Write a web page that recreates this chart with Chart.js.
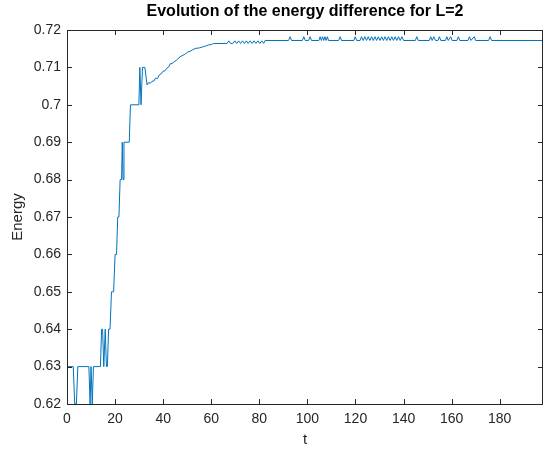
<!DOCTYPE html>
<html>
<head>
<meta charset="utf-8">
<script src="https://cdn.jsdelivr.net/npm/chart.js@4.4.1/dist/chart.umd.min.js"></script>
<style>
html, body { margin: 0; padding: 0; background: #fff; }
</style>
</head>
<body>
<canvas id="energyChart" width="546" height="452"></canvas>
<script>
// time samples and energy values
const tVals = [
    0, 2.6, 3.2, 3.9, 4.5, 9.1, 9.6, 10.0, 10.5, 11.0,
    13.9, 14.4, 14.8, 15.3, 15.9, 16.4, 16.8, 17.3, 17.9, 18.5,
    19.4, 20.0, 20.6, 21.1, 21.6, 22.1, 22.7, 23.0, 23.3, 23.7,
    25.9, 26.4, 29.9, 30.3, 30.8, 31.4, 32.4, 33.3, 34.0, 34.6,
    35.4, 36.2, 36.8, 37.6, 38.4, 39.2, 40.0, 40.8, 41.5, 42.3,
    43.0, 43.8, 44.6, 45.4, 46.2, 47.0, 47.8, 49.0, 50.2, 51.2,
    52.2, 53.6, 55.0, 56.5, 57.6, 58.8, 60.0, 61.0, 66.6, 67.3,
    68.1, 69.0, 69.8, 70.6, 71.4, 72.2, 73.0, 73.8, 74.6, 75.4,
    76.2, 77.0, 77.8, 78.6, 79.4, 80.2, 81.0, 81.8, 82.4, 92.2,
    92.8, 93.4, 97.9, 98.5, 99.1, 100.5, 101.1, 101.7, 104.8, 105.3,
    105.8, 106.3, 106.8, 107.3, 107.8, 108.3, 108.8, 113.0, 113.6, 114.2,
    119.3, 119.9, 120.5, 121.9, 122.5, 123.2, 123.9, 124.6, 125.3, 126.0,
    126.7, 127.4, 128.1, 128.8, 129.5, 130.2, 130.9, 131.6, 132.3, 133.0,
    133.7, 134.4, 135.1, 135.8, 136.5, 137.2, 137.9, 138.6, 139.3, 140.0,
    144.9, 145.5, 146.1, 150.7, 151.3, 151.9, 152.6, 153.3, 154.3, 154.9,
    155.5, 157.4, 158.0, 158.6, 159.6, 160.2, 162.2, 162.8, 163.4, 166.8,
    167.4, 168.0, 169.4, 170.0, 175.4, 176.0, 176.6, 198
]
const energyVals = [
    0.63, 0.63, 0.62, 0.62, 0.63, 0.63, 0.62, 0.63, 0.62, 0.63,
    0.63, 0.64, 0.64, 0.63, 0.64, 0.63, 0.63, 0.64, 0.64, 0.65,
    0.65, 0.66, 0.66, 0.67, 0.67, 0.68, 0.68, 0.69, 0.68, 0.69,
    0.69, 0.70, 0.70, 0.71, 0.70, 0.71, 0.71, 0.7053, 0.7060, 0.7057,
    0.7063, 0.7064, 0.7071, 0.7070, 0.7080, 0.7083, 0.7090, 0.7091, 0.7098, 0.7101,
    0.7110, 0.7110, 0.7116, 0.7118, 0.7124, 0.7128, 0.7131, 0.7135, 0.7141, 0.7143,
    0.7147, 0.7151, 0.7152, 0.7155, 0.7157, 0.7160, 0.7161, 0.7164, 0.7164, 0.7171,
    0.7164, 0.7164, 0.7171, 0.7164, 0.7171, 0.7164, 0.7171, 0.7164, 0.7171, 0.7164,
    0.7171, 0.7164, 0.7171, 0.7164, 0.7171, 0.7164, 0.7171, 0.7164, 0.7172, 0.7172,
    0.7182, 0.7172, 0.7172, 0.7182, 0.7172, 0.7172, 0.7182, 0.7172, 0.7172, 0.7182,
    0.7172, 0.7182, 0.7172, 0.7182, 0.7172, 0.7182, 0.7172, 0.7172, 0.7182, 0.7172,
    0.7172, 0.7182, 0.7172, 0.7172, 0.7182, 0.7172, 0.7182, 0.7172, 0.7182, 0.7172,
    0.7182, 0.7172, 0.7182, 0.7172, 0.7182, 0.7172, 0.7182, 0.7172, 0.7182, 0.7172,
    0.7182, 0.7172, 0.7182, 0.7172, 0.7182, 0.7172, 0.7182, 0.7172, 0.7182, 0.7172,
    0.7172, 0.7182, 0.7172, 0.7172, 0.7182, 0.7172, 0.7182, 0.7172, 0.7172, 0.7182,
    0.7172, 0.7172, 0.7182, 0.7172, 0.7182, 0.7172, 0.7172, 0.7182, 0.7172, 0.7172,
    0.7182, 0.7172, 0.7182, 0.7172, 0.7172, 0.7182, 0.7172, 0.7172
]
const xTicks = [0, 20, 40, 60, 80, 100, 120, 140, 160, 180]
const yTicks = [0.62, 0.63, 0.64, 0.65, 0.66, 0.67, 0.68, 0.69, 0.70, 0.71, 0.72]

const axisColor = '#262626'
const fontFamily = '"Liberation Sans", Arial, Helvetica, sans-serif'

// matlab style box with ticks pointing inside
const boxTicks = {
    id: 'boxTicks',
    afterDatasetsDraw(chart) {
        const { ctx, chartArea: a, scales: { x, y } } = chart
        ctx.save()
        ctx.strokeStyle = axisColor
        ctx.lineWidth = 1
        ctx.beginPath()
        x.ticks.forEach((t) => {
            const px = Math.round(x.getPixelForValue(t.value)) + 0.5
            ctx.moveTo(px, a.bottom)
            ctx.lineTo(px, a.bottom - 5)
            ctx.moveTo(px, a.top)
            ctx.lineTo(px, a.top + 5)
        })
        y.ticks.forEach((t) => {
            const py = Math.round(y.getPixelForValue(t.value)) + 0.5
            ctx.moveTo(a.left, py)
            ctx.lineTo(a.left + 5, py)
            ctx.moveTo(a.right, py)
            ctx.lineTo(a.right - 5, py)
        })
        ctx.stroke()
        ctx.strokeRect(a.left + 0.5, a.top + 0.5, a.right - a.left - 1, a.bottom - a.top)
        ctx.restore()
    }
}

new Chart(document.getElementById('energyChart'), {
    type: 'line',
    data: {
        datasets: [{
            data: tVals.map((t, i) => ({ x: t, y: energyVals[i] })),
            borderColor: '#0072BD',
            borderWidth: 1,
            pointRadius: 0,
            tension: 0,
            fill: false
        }]
    },
    options: {
        responsive: false,
        animation: false,
        devicePixelRatio: 1,
        layout: { padding: { left: 0, right: 3, top: 0, bottom: 0 } },
        plugins: {
            legend: { display: false },
            tooltip: { enabled: false },
            title: {
                display: true,
                text: 'Evolution of the energy difference for L=2',
                fullSize: false,
                color: '#000',
                font: { family: fontFamily, size: 16, weight: 'bold' },
                padding: { top: 2, bottom: 8.8 }
            }
        },
        scales: {
            x: {
                type: 'linear',
                min: 0,
                max: 198,
                afterBuildTicks: (s) => { s.ticks = xTicks.map((v) => ({ value: v })) },
                afterFit: (s) => { s.height = 48 },
                grid: { display: false, drawTicks: false },
                border: { display: false },
                ticks: { padding: 7, color: axisColor, maxRotation: 0, autoSkip: false, font: { family: fontFamily, size: 14 } },
                title: { display: true, text: 't', color: axisColor, font: { family: fontFamily, size: 15 }, padding: { top: 0, bottom: 3 } }
            },
            y: {
                type: 'linear',
                min: 0.62,
                max: 0.72,
                afterBuildTicks: (s) => { s.ticks = yTicks.map((v) => ({ value: v })) },
                afterFit: (s) => { s.width = 67 },
                grid: { display: false, drawTicks: false },
                border: { display: false },
                ticks: {
                    padding: 6,
                    color: axisColor,
                    autoSkip: false,
                    font: { family: fontFamily, size: 14 },
                    callback: (v) => String(+v.toFixed(2))
                },
                title: { display: true, text: 'Energy', color: axisColor, font: { family: fontFamily, size: 15 }, padding: { top: 9, bottom: 0 } }
            }
        }
    },
    plugins: [boxTicks]
})
</script>
</body>
</html>
